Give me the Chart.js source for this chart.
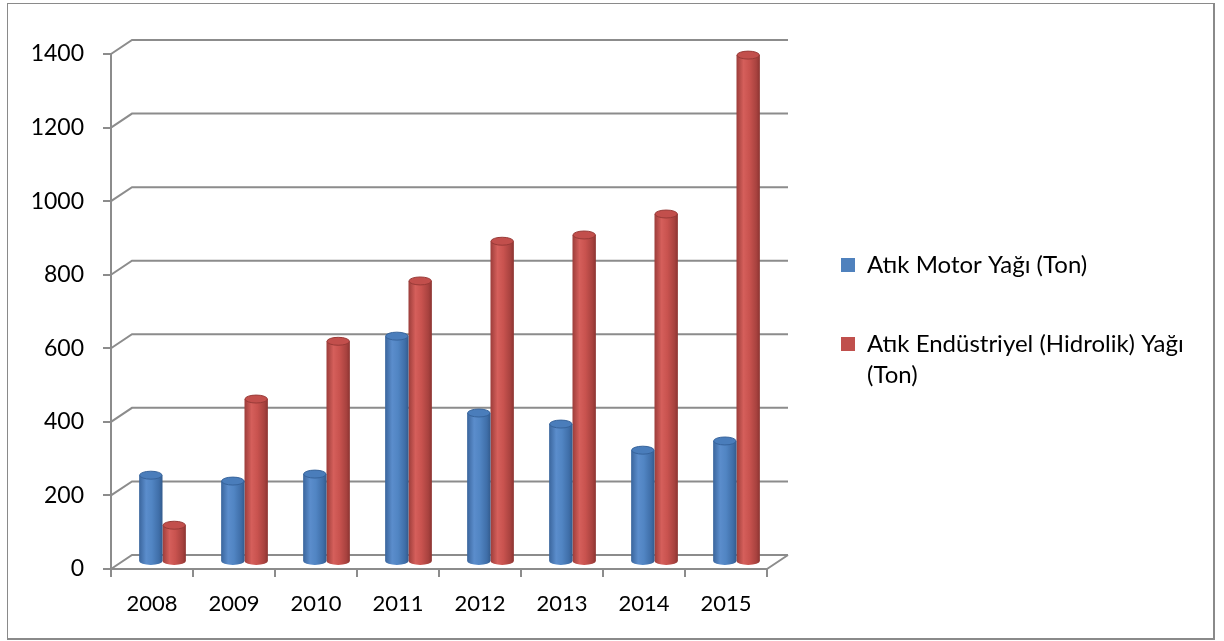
<!DOCTYPE html>
<html>
<head>
<meta charset="utf-8">
<script src="https://cdn.jsdelivr.net/npm/chart.js@4/dist/chart.umd.min.js"></script>
<style>
  html, body { margin: 0; padding: 0; background: #fff; }
  #wrap { position: relative; width: 1224px; height: 641px; }
  #frame {
    position: absolute; left: 7px; top: 3px; width: 1205px; height: 634px;
    border: 1px solid #8a8a8a; border-right-width: 2px; border-bottom-width: 2px;
    pointer-events: none;
  }
</style>
</head>
<body>
<div id="wrap">
  <canvas id="oilChart" width="1224" height="641"></canvas>
  <div id="frame"></div>
</div>
<script>
const years = ['2008', '2009', '2010', '2011', '2012', '2013', '2014', '2015'];
const motorOil = [236, 220, 239, 614, 405, 375, 304, 329];
const industrialOil = [100, 443, 600, 764, 872, 889, 946, 1378];
const seriesNames = ['Atık Motor Yağı (Ton)', 'Atık Endüstriyel (Hidrolik) Yağı (Ton)'];
const yMax = 1400;
const yStep = 200;

const gridColor = '#8c8c8c';
const depth = { dx: 21, dy: -14 };

// cylinder shading, left to right across each bar
const shades = [
  [[0, '#3a659c'], [0.3, '#5b8dcc'], [0.55, '#5185c3'], [0.85, '#3f6ea8'], [1, '#335b8d']],
  [[0, '#9c3d3a'], [0.3, '#d55f5b'], [0.55, '#c9534f'], [0.85, '#a8423f'], [1, '#8c3431']]
];
const capColors = [['#4a7dbb', '#36639b'], ['#c24f4c', '#983a37']];

Chart.defaults.font.family = 'Lato, "Open Sans", sans-serif';
Chart.defaults.font.size = 22;
Chart.defaults.color = '#000';

function wrapLabel(ctx, text, maxWidth) {
  ctx.save();
  ctx.font = '24px Lato';
  const words = text.split(' ');
  const lines = [];
  let line = '';
  words.forEach(w => {
    const test = line ? line + ' ' + w : w;
    if (line && ctx.measureText(test).width > maxWidth) {
      lines.push(line);
      line = w;
    } else {
      line = test;
    }
  });
  lines.push(line);
  ctx.restore();
  return lines.length > 1 ? lines : lines[0];
}

// legend sits a little right of the back wall, not flush with the plot
const legendPlace = {
  id: 'legendPlace',
  afterLayout(chart) {
    const l = chart.legend;
    l.left = chart.chartArea.right + 19;
    l.right = chart.width - 5;
    l.width = l.right - l.left;
    l.top = 198;
    l.bottom = chart.height;
    l.height = l.bottom - l.top;
  }
};

const fake3d = {
  id: 'fake3d',
  beforeDatasetsDraw(chart) {
    const { ctx, chartArea: a, scales: { y } } = chart;
    ctx.save();
    ctx.strokeStyle = gridColor;
    ctx.lineWidth = 2;
    ctx.beginPath();
    y.ticks.forEach(t => {
      const py = y.getPixelForValue(t.value);
      ctx.moveTo(a.left, py);
      ctx.lineTo(a.left + depth.dx, py + depth.dy);
      ctx.lineTo(a.right + depth.dx, py + depth.dy);
    });
    ctx.moveTo(a.right, a.bottom);
    ctx.lineTo(a.right + depth.dx, a.bottom + depth.dy);
    ctx.stroke();
    ctx.restore();

    // bars sit half way into the depth
    ctx.save();
    ctx.translate(depth.dx / 2, depth.dy / 2);
    chart.data.datasets.forEach((ds, di) => {
      chart.getDatasetMeta(di).data.forEach(bar => {
        const { x, width } = bar.getProps(['x', 'width'], true);
        const g = ctx.createLinearGradient(x - width / 2, 0, x + width / 2, 0);
        shades[di].forEach(([stop, col]) => g.addColorStop(stop, col));
        bar.options = Object.assign({}, bar.options, { backgroundColor: g });
      });
    });
  },
  afterDatasetsDraw(chart) {
    const { ctx } = chart;
    chart.data.datasets.forEach((ds, di) => {
      chart.getDatasetMeta(di).data.forEach(bar => {
        const { x, y, width, base } = bar.getProps(['x', 'y', 'width', 'base'], true);
        const rx = width / 2;
        const ry = width * 0.17;
        ctx.fillStyle = bar.options.backgroundColor;
        ctx.beginPath();
        ctx.ellipse(x, base, rx, ry, 0, 0, Math.PI);
        ctx.fill();
        ctx.fillStyle = capColors[di][0];
        ctx.strokeStyle = capColors[di][1];
        ctx.lineWidth = 1;
        ctx.beginPath();
        ctx.ellipse(x, y, rx - 0.5, ry, 0, 0, Math.PI * 2);
        ctx.fill();
        ctx.stroke();
      });
    });
    ctx.restore();
  }
};

new Chart(document.getElementById('oilChart'), {
  type: 'bar',
  data: {
    labels: years,
    datasets: [
      { label: seriesNames[0], data: motorOil, backgroundColor: '#4f81bd', borderWidth: 0, clip: false },
      { label: seriesNames[1], data: industrialOil, backgroundColor: '#c0504d', borderWidth: 0, clip: false }
    ]
  },
  options: {
    responsive: false,
    animation: false,
    events: [],
    datasets: { bar: { categoryPercentage: 0.57, barPercentage: 1.0 } },
    layout: { padding: { top: 54, right: 201.33, bottom: 0, left: 0 } },
    scales: {
      x: {
        afterFit: s => { s.height = 72; },
        grid: { display: true, drawOnChartArea: false, offset: true, tickLength: 8, color: gridColor, lineWidth: 2 },
        border: { display: true, color: gridColor, width: 2 },
        ticks: { padding: 14 }
      },
      y: {
        min: 0,
        max: yMax,
        afterFit: s => { s.width = 111; },
        grid: { display: true, drawOnChartArea: false, tickLength: 8, color: gridColor, lineWidth: 2 },
        border: { display: true, color: gridColor, width: 2 },
        ticks: { stepSize: yStep, padding: 19, font: { size: 23 }, callback: v => String(v) }
      }
    },
    plugins: {
      tooltip: { enabled: false },
      legend: {
        position: 'right',
        align: 'start',
        labels: {
          boxWidth: 14,
          boxHeight: 14,
          padding: 55,
          color: '#000',
          font: { size: 24, lineHeight: 1.3 },
          generateLabels(chart) {
            const items = Chart.defaults.plugins.legend.labels.generateLabels(chart);
            items.forEach(it => {
              it.lineWidth = 0;
              it.text = wrapLabel(chart.ctx, it.text, 330);
            });
            return items;
          }
        }
      }
    }
  },
  plugins: [fake3d, legendPlace]
});
</script>
</body>
</html>
